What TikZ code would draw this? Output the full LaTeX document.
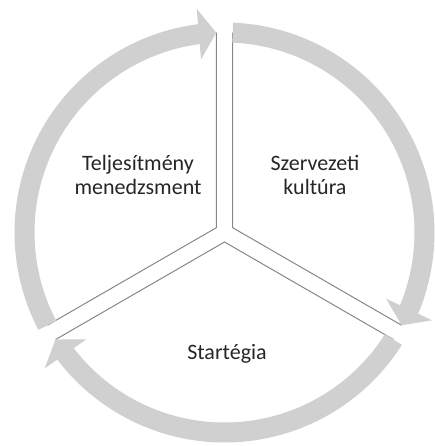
\documentclass[tikz,border=0pt]{standalone}
\usepackage{fontspec}
\setmainfont{Carlito}
\usetikzlibrary{calc}
\definecolor{ringgray}{RGB}{208,208,208}
\definecolor{edgegray}{RGB}{135,135,135}
\begin{document}
\begin{tikzpicture}[x=1pt,y=1pt,
  edgeline/.style={draw=edgegray,line width=1pt},
  ringfill/.style={fill=ringgray,draw=none},
  label/.style={align=center,font=\fontsize{22}{24.5}\selectfont,text=black!85,inner sep=0pt}]
\useasboundingbox (-224.5,-213.5) rectangle (209.5,232.5);
% sector corners
\coordinate (C1) at (150:9.5);
\coordinate (C2) at (30:9.5);
\coordinate (C3) at (270:9.5);
\coordinate (E1a) at ($(C1)+(90:195)$);
\coordinate (E1b) at ($(C1)+(210:195)$);
\coordinate (E2a) at ($(C2)+(90:195)$);
\coordinate (E2b) at ($(C2)+(330:195)$);
\coordinate (E3a) at ($(C3)+(210:195)$);
\coordinate (E3b) at ($(C3)+(330:195)$);
\draw[edgeline] (E1a) -- (C1) -- (E1b);
\draw[edgeline] (E2a) -- (C2) -- (E2b);
\draw[edgeline] (E3a) -- (C3) -- (E3b);
% arrows: name / tail angle / tip angle
\foreach \n/\ta/\tb in {A/207.64/92.36, B/87.64/-27.64, C/-32.36/-147.64}{
  \pgfmathsetmacro{\sb}{\tb+4.5}
  \pgfmathsetmacro{\hb}{\tb+5}
  \fill[ringfill] (\ta:210) arc[start angle=\ta, end angle=\sb, radius=210]
     -- (\sb:190) arc[start angle=\sb, end angle=\ta, radius=190] -- cycle;
  \coordinate (\n M) at (\hb:200);
  \coordinate (\n T) at (\tb:200);
  \fill[ringfill] (\n T) -- ($(\n M)!25.5pt!90:(\n T)$) -- ($(\n M)!25.5pt!-90:(\n T)$) -- cycle;
}
\node[label] (perf) at (-86.5,57.5) {Teljesítmény\\menedzsment};
\node[label] (cult) at (90.5,57.5) {Szervezeti\\kultúra};
\node[label,anchor=base] (strat) at (2.5,-127.5) {Startégia};
\end{tikzpicture}
\end{document}
